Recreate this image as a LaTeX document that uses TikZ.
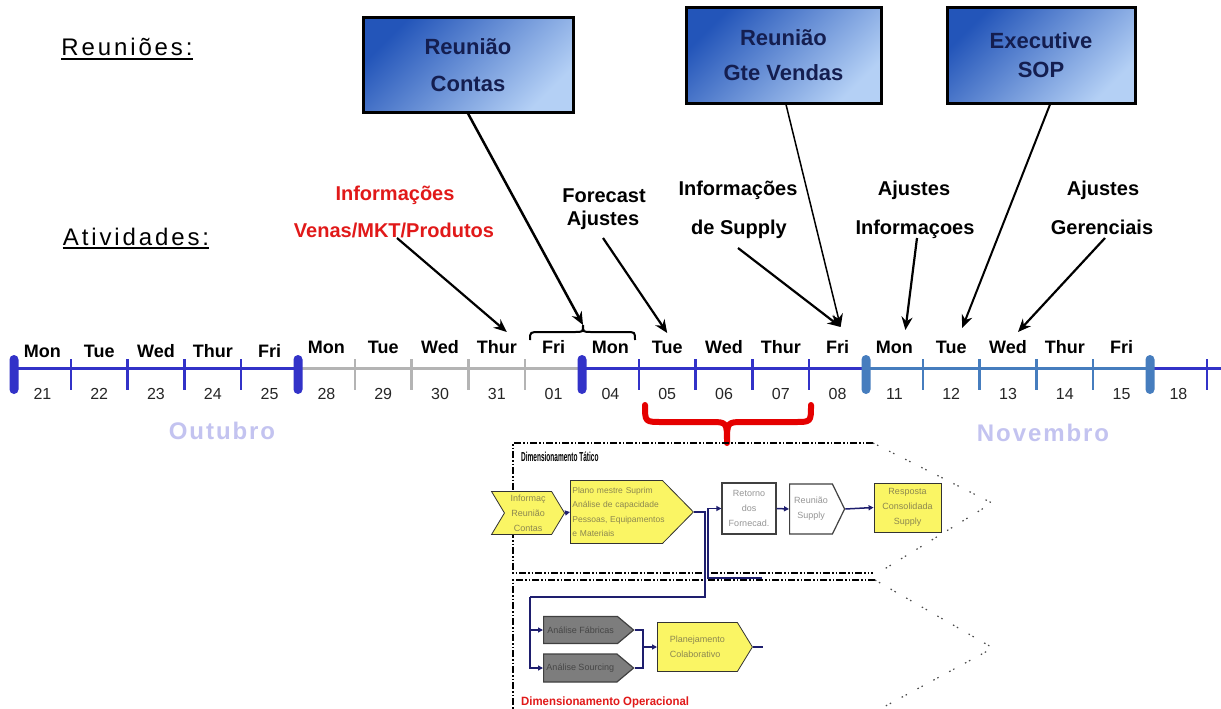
\documentclass[tikz,border=0pt]{standalone}
\usepackage{fontspec}
\setmainfont{Liberation Sans}
\newfontfamily\spacedfont[LetterSpace=12]{Liberation Sans}
\newfontfamily\taticofont[FakeStretch=0.5]{Liberation Sans}
\newfontfamily\operfont[FakeStretch=0.95]{Liberation Sans}
\usetikzlibrary{positioning}
\usetikzlibrary{shapes.symbols,arrows.meta,calc}

\definecolor{tlblue}{RGB}{50,50,200}
\definecolor{tlgray}{RGB}{180,180,180}
\definecolor{tlsteel}{RGB}{70,125,190}
\definecolor{monthcol}{RGB}{195,195,240}
\definecolor{boxdark}{RGB}{35,85,185}
\definecolor{boxlight}{RGB}{180,208,245}
\definecolor{boxtext}{RGB}{20,30,80}
\definecolor{actred}{RGB}{225,25,25}
\definecolor{flowyellow}{RGB}{250,245,100}
\definecolor{flownavy}{RGB}{30,30,110}
\definecolor{flowgray}{RGB}{125,125,125}
\definecolor{ytext}{RGB}{140,135,80}
\definecolor{wtext}{RGB}{150,150,150}
\definecolor{gtext}{RGB}{70,70,70}

\tikzset{
  meeting/.style={draw=black, line width=3pt, top color=boxdark, bottom color=boxlight,
    shading angle=45, text=boxtext, align=center, font=\fontsize{22}{#1}\selectfont\bfseries},
  heading/.style={font=\spacedfont\fontsize{24}{24}\selectfont, inner sep=0pt, anchor=base},
  actlabel/.style={font=\fontsize{20}{20}\selectfont\bfseries, inner sep=0pt, anchor=base},
  actarrow/.style={-{Stealth[length=13pt,width=11pt]}, line width=#1},
  actarrow/.default=2.2pt,
  tlline/.style={line width=3pt},
  tltick/.style={line width=2.5pt},
  weekmark/.style={rounded corners=4.5pt, minimum width=9pt, minimum height=39pt, inner sep=0pt},
  dayname/.style={font=\fontsize{18}{18}\selectfont\bfseries, inner sep=0pt, anchor=base},
  daynum/.style={font=\fontsize{16}{16}\selectfont, inner sep=0pt, anchor=base, text=black!85},
  monthname/.style={font=\fontsize{24}{24}\selectfont\bfseries\addfontfeatures{LetterSpace=8}, text=monthcol},
  frameline/.style={line width=1.2pt, dash pattern=on 7pt off 2pt on 1.5pt off 2pt on 1.5pt off 2pt},
  sparsedots/.style={line width=1.2pt, black!70, dash pattern=on 1.5pt off 3pt on 1.5pt off 12pt},
  yellowbox/.style={fill=flowyellow, draw=black!80, line width=0.8pt, text=ytext,
    font=\fontsize{9}{15}\selectfont, align=center, inner sep=1pt},
  whitebox/.style={fill=white, draw=black!75, line width=1.2pt, text=wtext,
    font=\fontsize{9}{15}\selectfont, align=center, inner sep=1pt},
  graybox/.style={fill=flowgray, draw=black!75, line width=1.2pt, text=gtext,
    font=\fontsize{9}{15}\selectfont, align=left, inner sep=1pt},
  flow/.style={draw=flownavy, line width=1.5pt},
  flowarrow/.style={flow, -{Triangle[length=5pt,width=5pt]}}
}

\begin{document}
\begin{tikzpicture}[x=1pt,y=-1pt]
\useasboundingbox[fill=white] (0,0) rectangle (1221,709);

% headings
\node[heading] (reunioes) at (127,56) {Reuniões:};
\draw[line width=1.6pt] ([yshift=-3pt]reunioes.base west) -- ([yshift=-3pt]reunioes.base east);
\node[heading] (atividades) at (136,245) {Atividades:};
\draw[line width=1.6pt] ([yshift=-3pt]atividades.base west) -- ([yshift=-3pt]atividades.base east);

% meetings
\node[meeting=37, minimum width=210pt, minimum height=94pt] (contas) at (468,65) {Reunião\\Contas};
\node[meeting=35, minimum width=195pt, minimum height=95pt] (vendas) at (783.5,55.5) {Reunião\\Gte Vendas};
\node[meeting=29, minimum width=188pt, minimum height=95pt] (sop) at (1041,55.5) {Executive\\SOP};

% activities
\node[actlabel, text=actred] (venas1) at (395,200) {Informações};
\node[actlabel, text=actred] (venas2) at (394,237) {Venas/MKT/Produtos};
\node[actlabel] (fc1) at (604,202) {Forecast};
\node[actlabel] (fc2) at (603,225) {Ajustes};
\node[actlabel] (sup1) at (738,195) {Informações};
\node[actlabel] (sup2) at (739,234) {de Supply};
\node[actlabel] (aj1) at (914,195) {Ajustes};
\node[actlabel] (aj2) at (915,234) {Informaçoes};
\node[actlabel] (ger1) at (1103,195) {Ajustes};
\node[actlabel] (ger2) at (1102,234) {Gerenciais};

% timeline
\foreach \i in {0,...,21}
  \coordinate (t\i) at ({14+56.8*\i},368);
\coordinate (tend) at (1221,368);
\draw[tlline, tlblue] (t0) -- (t5);
\draw[tlline, tlgray] (t5) -- (t10);
\draw[tlline, tlblue] (t10) -- (t15);
\draw[tlline, tlsteel] (t15) -- (t20);
\draw[tlline, tlblue] (t20) -- (tend);
\foreach \i in {1,2,3,4,11,12,13,14,21}
  \draw[tltick, tlblue] ($(t\i)+(0,-9)$) -- ($(t\i)+(0,22)$);
\foreach \i in {6,...,9}
  \draw[tltick, tlgray] ($(t\i)+(0,-9)$) -- ($(t\i)+(0,22)$);
\foreach \i in {16,...,19}
  \draw[tltick, tlsteel] ($(t\i)+(0,-9)$) -- ($(t\i)+(0,22)$);
\foreach \i in {0,5,10}
  \node[weekmark, fill=tlblue] (w\i) at ($(t\i)+(0,6.5)$) {};
\foreach \i in {15,20}
  \node[weekmark, fill=tlsteel] (w\i) at ($(t\i)+(0,6.5)$) {};

\foreach \w in {0,...,3}
  \foreach \d [count=\k from 0] in {Mon,Tue,Wed,Thur,Fri} {
    \pgfmathtruncatemacro\i{5*\w+\k}
    \pgfmathsetmacro\dy{\w==0 ? 357 : 353}
    \node[dayname] (d\i) at ({14+56.8*(\i+0.5)},\dy) {\d};
  }
\foreach \n [count=\i from 0] in {21,22,23,24,25,28,29,30,31,01,04,05,06,07,08,11,12,13,14,15,18}
  \node[daynum] (n\i) at ({14+56.8*(\i+0.5)},399) {\n};

\node[monthname] (outubro) at (222,431) {Outubro};
\node[monthname] (novembro) at (1043,433) {Novembro};

% braces
\coordinate (bracetip) at (583,325);
\draw[line width=2pt] (530,340) .. controls (530,332) .. (540,332) -- (575,332)
  .. controls (583,332) .. (bracetip) .. controls (583,332) .. (591,332) -- (626,332)
  .. controls (635,332) .. (635,340);
\draw[line width=6pt, red!90!black, line cap=round, line join=round]
  (645,405) .. controls (645,422) .. (662,422) -- (710,422)
  .. controls (727,422) .. (727,443) .. controls (727,422) .. (744,422) -- (795,422)
  .. controls (811,422) .. (811,405);

% arrows to the days
\coordinate (fri08) at ([xshift=3pt,yshift=26pt]d14.base);
\draw[actarrow=2.5pt] (contas.south) -- (bracetip);
\draw[actarrow=1.5pt] ([xshift=2.5pt]vendas.south) -- (fri08);
\draw[actarrow=2pt] ([xshift=9pt]sop.south) -- ([xshift=11pt,yshift=25pt]d16.base);
\draw[actarrow] ([xshift=3pt,yshift=-1pt]venas2.base) -- ([xshift=10pt,yshift=21pt]d8.base);
\draw[actarrow] ([yshift=-13pt]fc2.base) -- ([yshift=20pt]d11.base);
\draw[actarrow] ([xshift=-1pt,yshift=-14pt]sup2.base) -- (fri08);
\draw[actarrow] ([xshift=2pt,yshift=-4pt]aj2.base) -- ([xshift=11pt,yshift=23pt]d15.base);
\draw[actarrow] ([xshift=3pt,yshift=-4pt]ger2.base) -- ([xshift=10pt,yshift=21pt]d17.base);

% frames
\draw[frameline] (873,443) -- (513,443) -- (513,573) -- (873,573);
\draw[frameline] (875,580) -- (513,580) -- (513,712);
\draw[sparsedots] (873,443) -- (992,503) -- (878,573);
\draw[sparsedots] (875,580) -- (993,648) -- (880,709);
\node[font=\taticofont\fontsize{13}{13}\selectfont\bfseries, anchor=west, inner sep=0pt] (tatico) at (521,457) {Dimensionamento Tático};
\node[font=\operfont\fontsize{12}{12}\selectfont\bfseries, text=actred, anchor=west, inner sep=0pt] (operacional) at (521,702) {Dimensionamento Operacional};

% tactic flow
\node[yellowbox, signal, signal from=west, signal to=east, signal pointer angle=118,
  minimum width=73pt, minimum height=43pt, anchor=east] (infocontas) at (565,513) {Informaç\\Reunião\\Contas};
\node[yellowbox, signal, signal to=east, signal pointer angle=91, align=left, text width=88pt,
  font=\fontsize{8.5}{14.5}\selectfont, minimum width=123pt, minimum height=63pt, anchor=west] (plano) at (570,512)
  {\mbox{Plano mestre Suprim}\\\mbox{Análise de capacidade}\\\mbox{Pessoas, Equipamentos}\\\mbox{e Materiais}};
\node[whitebox, minimum width=54pt, minimum height=51pt] (retorno) at (749,508.5) {Retorno\\dos\\Fornecad.};
\node[whitebox, signal, signal to=east, signal pointer angle=128,
  minimum width=55pt, minimum height=50pt, anchor=west] (supply) at (789,509) {Reunião\\Supply};
\node[yellowbox, minimum width=67pt, minimum height=49pt] (resposta) at (907.5,507.5) {Resposta\\Consolidada\\Supply};

% operational flow
\node[graybox, signal, signal to=east, signal pointer angle=80,
  minimum width=90pt, minimum height=27pt, anchor=west] (fabricas) at (543,630) {Análise Fábricas};
\node[graybox, signal, signal to=east, signal pointer angle=80,
  minimum width=90pt, minimum height=28pt, anchor=west] (sourcing) at (543,668) {Análise Sourcing};
\node[yellowbox, signal, signal to=east, signal pointer angle=117, align=left,
  minimum width=95pt, minimum height=49pt, anchor=west] (planej) at (657,647) {Planejamento\\Colaborativo};

% connectors
\coordinate (split) at (530,597);
\coordinate (feedback) at (708,578);
\coordinate (feedbackend) at (762,578);
\coordinate (merge) at (643,647);
\coordinate (planout) at (763,647);
\draw[flowarrow] (infocontas.east) -- (plano.west);
\draw[flow] (plano.east) -- ++(11,0) |- (split);
\draw[flowarrow] (split) |- (fabricas.west);
\draw[flowarrow] (split) |- (sourcing.west);
\draw[flowarrow] (feedbackend) -- (feedback) |- (retorno.west);
\draw[flowarrow] (retorno.east) -- (supply.west);
\draw[flowarrow] (supply.east) -- (resposta.west);
\draw[flow] (fabricas.east) -| (merge);
\draw[flow] (sourcing.east) -| (merge);
\draw[flowarrow] (merge) -- (planej.west);
\draw[flow] (planej.east) -- (planout);
\end{tikzpicture}
\end{document}
